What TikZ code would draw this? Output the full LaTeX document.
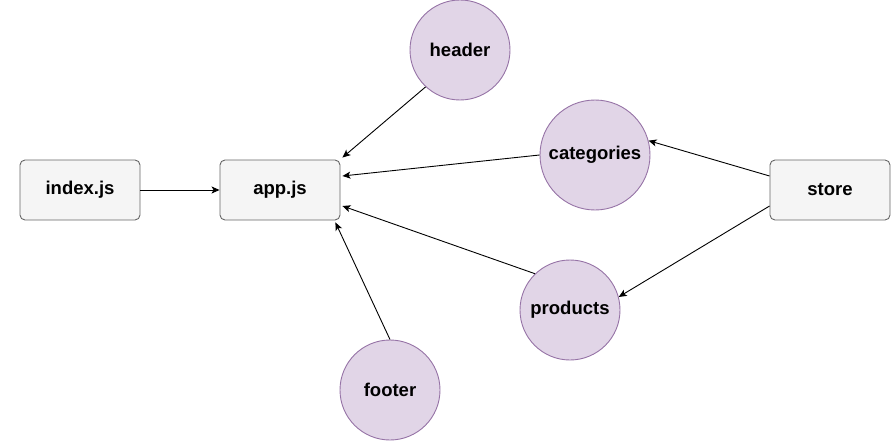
\documentclass[tikz,border=0pt]{standalone}
\usepackage{fontspec}
\setmainfont{Liberation Sans}
\usetikzlibrary{arrows.meta}
\definecolor{boxfill}{HTML}{F5F5F5}
\definecolor{boxline}{HTML}{666666}
\definecolor{circfill}{HTML}{E1D5E7}
\definecolor{circline}{HTML}{9673A6}
\tikzset{
  filebox/.style={
    draw=boxline,
    fill=boxfill,
    line width=0.9pt,
    rounded corners=5pt,
    minimum width=120pt,
    minimum height=60pt,
    inner sep=0pt,
    font=\fontsize{18.5}{20}\selectfont\bfseries
  },
  partcircle/.style={
    draw=circline,
    fill=circfill,
    line width=0.9pt,
    circle,
    inner sep=0pt,
    font=\fontsize{18.5}{20}\selectfont\bfseries
  },
  link/.style={
    draw=black,
    line width=0.9pt,
    -{Stealth[length=8pt, width=7pt, inset=2pt]}
  }
}
\begin{document}
\begin{tikzpicture}[x=1pt, y=-1pt]
      % Page frame
      \useasboundingbox (0,0) rectangle (891,441);

      % Rounded boxes
      \node[filebox] (index) at (80,190) {index.js};
      \node[filebox] (app) at (280,190) {app.js};
      \node[filebox] (store) at (830,190) {store};

      % Purple circles
      \node[partcircle, minimum size=100pt] (header) at (460,50) {header};
      \node[partcircle, minimum size=110pt] (categories) at (595,155) {categories};
      \node[partcircle, minimum size=100pt] (products) at (570,310) {products};
      \node[partcircle, minimum size=100pt] (footer) at (390,390) {footer};

      % Connectors into app.js
      \draw[link] (index) -- (app);
      \draw[link] (header.227) -- ([xshift=2pt, yshift=2pt]app.north east);
      \draw[link] (categories.west) -- ([xshift=2pt, yshift=14pt]app.east);
      \draw[link] (products.134) -- ([xshift=2pt, yshift=-16pt]app.east);
      \draw[link] (footer.north) -- ([xshift=-5pt, yshift=-2pt]app.south east);

      % Connectors out of store
      \draw[link] ([yshift=14pt]store.west) -- (categories.15);
      \draw[link] ([yshift=-16pt]store.west) -- (products.15);

    \end{tikzpicture}
\end{document}
